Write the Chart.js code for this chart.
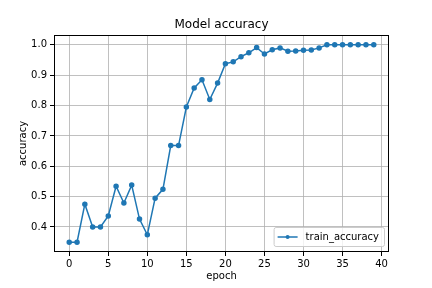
<!DOCTYPE html>
<html>
<head>
<meta charset="utf-8">
<script src="https://cdn.jsdelivr.net/npm/chart.js@4"></script>
<style>
  html, body { margin: 0; padding: 0; background: #fff; }
  #wrap { width: 432px; height: 288px; }
</style>
</head>
<body>
<div id="wrap"><canvas id="myChart" width="432" height="288"></canvas></div>
<script>
let epochs = [];
for (let i = 0; i < 40; i++) epochs.push(i);

let trainAccuracy = [0.350, 0.350, 0.475, 0.400, 0.400, 0.436, 0.534, 0.479, 0.538, 0.426,
    0.374, 0.495, 0.524, 0.668, 0.668, 0.795, 0.858, 0.885, 0.820, 0.874,
    0.938, 0.944, 0.961, 0.974, 0.991, 0.970, 0.984, 0.990, 0.979, 0.980,
    0.982, 0.983, 0.990, 1.000, 1.000, 1.000, 1.000, 1.000, 1.000, 1.000];

let xTicks = [0, 5, 10, 15, 20, 25, 30, 35, 40];
let yTicks = [0.4, 0.5, 0.6, 0.7, 0.8, 0.9, 1.0];

const LINE_COLOR = '#1f77b4';
const FONT = 'DejaVu Sans';
const TITLE = 'Model accuracy';

// matplotlib-like frame, title over the axes, legend inside the axes
const framePlugin = {
    id: 'frame',
    afterDraw(chart) {
        const ctx = chart.ctx;
        const a = chart.chartArea;
        ctx.save();
        ctx.strokeStyle = '#000';
        ctx.lineWidth = 1;
        ctx.strokeRect(Math.round(a.left) + 0.5, Math.round(a.top) + 0.5,
            Math.round(a.right - a.left) - 1, Math.round(a.bottom - a.top) - 1);

        // title centred over the axes
        ctx.font = '12px "' + FONT + '"';
        ctx.fillStyle = '#000';
        ctx.textAlign = 'center';
        ctx.textBaseline = 'middle';
        ctx.fillText(TITLE, (a.left + a.right) / 2, a.top - 10);

        // legend
        ctx.font = '10px "' + FONT + '"';
        ctx.textAlign = 'left';
        const label = 'train_accuracy';
        const tw = ctx.measureText(label).width;
        const w = tw + 37, h = 19;
        const x = a.right - 5 - w, y = a.bottom - 6 - h;
        ctx.fillStyle = 'rgba(255,255,255,0.8)';
        ctx.strokeStyle = '#cccccc';
        ctx.beginPath();
        ctx.roundRect(x + 0.5, y + 0.5, w, h, 2);
        ctx.fill();
        ctx.stroke();
        const ly = y + h / 2 + 0.5;
        ctx.strokeStyle = LINE_COLOR;
        ctx.lineWidth = 1.5;
        ctx.beginPath();
        ctx.moveTo(x + 4, ly);
        ctx.lineTo(x + 24, ly);
        ctx.stroke();
        ctx.fillStyle = LINE_COLOR;
        ctx.beginPath();
        ctx.arc(x + 14, ly, 2, 0, Math.PI * 2);
        ctx.fill();
        ctx.fillStyle = '#000';
        ctx.fillText(label, x + 32, ly);
        ctx.restore();
    }
};

let chartElement = document.getElementById('myChart').getContext('2d');

let myChart = new Chart(chartElement, {
    type: 'line',
    data: {
        labels: epochs,
        datasets: [{
            label: 'train_accuracy',
            data: epochs.map((e, i) => ({ x: e, y: trainAccuracy[i] })),
            borderColor: LINE_COLOR,
            backgroundColor: LINE_COLOR,
            borderWidth: 1.5,
            pointRadius: 2,
            pointHoverRadius: 2,
            tension: 0
        }]
    },
    options: {
        responsive: false,
        animation: false,
        devicePixelRatio: 1,
        layout: { padding: { left: 17, right: 43, top: 35, bottom: 6 } },
        plugins: {
            legend: { display: false },
            tooltip: { enabled: false },
            title: { display: false }
        },
        scales: {
            x: {
                type: 'linear',
                min: -1.95,
                max: 40.95,
                afterBuildTicks(scale) { scale.ticks = xTicks.map(v => ({ value: v })); },
                afterFit(scale) { scale.height = 30; },
                ticks: { color: '#000', font: { family: FONT, size: 10 }, padding: 2, maxRotation: 0,
                    callback: v => String(v) },
                grid: { color: '#b0b0b0', lineWidth: 0.8, tickColor: '#000', tickLength: 4, tickWidth: 1 },
                border: { display: false },
                title: { display: true, text: 'epoch', color: '#000',
                    font: { family: FONT, size: 10 }, padding: { top: 0, bottom: 0 } }
            },
            y: {
                type: 'linear',
                min: 0.3175,
                max: 1.0325,
                afterBuildTicks(scale) { scale.ticks = yTicks.map(v => ({ value: v })); },
                afterFit(scale) { scale.width = 37; },
                ticks: { color: '#000', font: { family: FONT, size: 10 }, padding: 3,
                    callback: v => v.toFixed(1) },
                grid: { color: '#b0b0b0', lineWidth: 0.8, tickColor: '#000', tickLength: 4, tickWidth: 1 },
                border: { display: false },
                title: { display: true, text: 'accuracy', color: '#000',
                    font: { family: FONT, size: 10 }, padding: { top: 0, bottom: 0 } }
            }
        }
    },
    plugins: [framePlugin]
});
</script>
</body>
</html>
